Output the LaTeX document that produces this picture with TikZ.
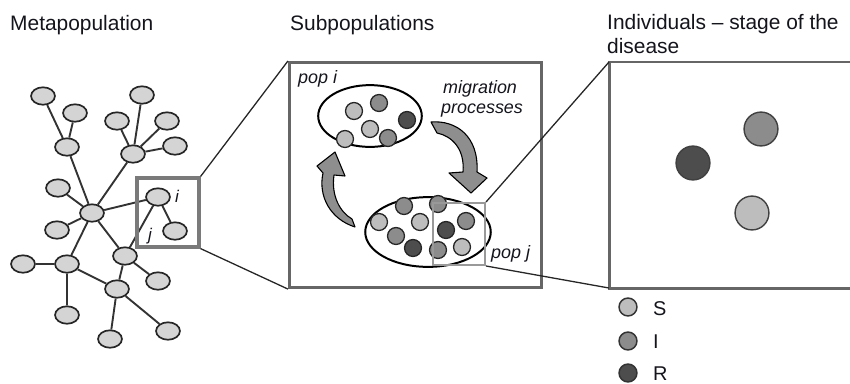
\documentclass[tikz,border=0pt]{standalone}
\usepackage{fontspec}
\setmainfont{Liberation Sans}
\usetikzlibrary{shapes.geometric,backgrounds}
\definecolor{sCol}{HTML}{BDBDBD}
\definecolor{iCol}{HTML}{8C8C8C}
\definecolor{rCol}{HTML}{4D4D4D}
\definecolor{netFill}{HTML}{D4D4D4}
\definecolor{inkCol}{HTML}{14141C}
\definecolor{frameCol}{HTML}{666666}
\definecolor{arrowFill}{HTML}{8E8E8E}
\begin{document}
\begin{tikzpicture}[x=1bp,y=-1bp,
  title/.style={anchor=base west,inner sep=0,text=inkCol,font=\fontsize{21}{24}\selectfont},
  lbl/.style={anchor=base west,inner sep=0,text=inkCol,font=\fontsize{18}{20}\selectfont\itshape},
  net/.style={ellipse,draw=black!85,line width=1.7,fill=netFill,minimum width=24,minimum height=17.5,inner sep=0},
  link/.style={draw=black!80,line width=1.9},
  ind/.style={circle,draw=black!85,line width=1.3,minimum size=17,inner sep=0},
  big/.style={circle,draw=black!75,line width=1.4,minimum size=34,inner sep=0},
  leg/.style={circle,draw=black!80,line width=1.5,minimum size=18,inner sep=0},
  pop/.style={ellipse,draw=black,line width=2,inner sep=0},
  zoomline/.style={draw=black!85,line width=1.3},
  migr/.style={fill=arrowFill,draw=black,line width=1.1,line join=round}]
\useasboundingbox (0,0) rectangle (850,383);

% headings
\node[title] (t1) at (10,30) {Metapopulation};
\node[title] (t2) at (290,30) {Subpopulations};
\node[title] (t3) at (607,29) {Individuals -- stage of the};
\node[title] (t4) at (607,53) {disease};

% ---- metapopulation network ----
\node[net] (hub) at (92,213) {};
\node[net] (a6) at (67,147) {};
\node[net] (a1) at (43,96) {};
\node[net] (a3) at (75,113) {};
\node[net] (b7) at (133,154) {};
\node[net] (b2) at (142,95) {};
\node[net] (b4) at (117,121) {};
\node[net] (b5) at (167,121) {};
\node[net] (b8) at (175,146) {};
\node[net] (c9) at (58,188) {};
\node[net] (c10) at (57,230) {};
\node[net] (ni) at (158,197) {};
\node[net] (nj) at (175,231) {};
\node[net] (d13) at (125,256) {};
\node[net] (d14) at (158,281) {};
\node[net] (e12) at (67,264) {};
\node[net] (e11) at (23,264) {};
\node[net] (e16) at (67,315) {};
\node[net] (f15) at (117,289) {};
\node[net] (f17) at (110,339) {};
\node[net] (f18) at (168,331) {};

\begin{scope}[on background layer]
  \path[link] (hub) -- (a6) (a6) -- (a1) (a6) -- (a3)
    (hub) -- (b7) (b7) -- (b2) (b7) -- (b4) (b7) -- (b5) (b7) -- (b8)
    (hub) -- (c9) (hub) -- (c10) (hub) -- (ni) (ni) -- (nj) (ni) -- (d13)
    (hub) -- (d13) (hub) -- (e12) (e12) -- (e11) (e12) -- (e16) (e12) -- (f15)
    (d13) -- (d14) (d13) -- (f15) (f15) -- (f17) (f15) -- (f18);
\end{scope}

\node[anchor=base west,inner sep=0,text=inkCol,font=\fontsize{17}{20}\selectfont\itshape] (li) at (175,202) {i};
\node[anchor=base west,inner sep=0,text=inkCol,font=\fontsize{17}{20}\selectfont\itshape] (lj) at (148,240) {j};

% zoom frame around i and j
\node[draw=black!52,line width=3.5,minimum width=62,minimum height=69,inner sep=0] (zbox) at (168,212.5) {};

% ---- subpopulations panel ----
\node[draw=frameCol,line width=3,minimum width=253,minimum height=226,inner sep=0] (mid) at (415.5,175) {};
\draw[zoomline] (zbox.north east) -- (mid.north west);
\draw[zoomline] (zbox.south east) -- (mid.south west);

\node[pop,minimum width=104,minimum height=62] (popi) at (370,116) {};
\node[pop,minimum width=126,minimum height=70] (popj) at (428,232) {};

% individuals in pop i
\node[ind,fill=sCol] (p1) at (354,111) {};
\node[ind,fill=iCol] (p2) at (379,103) {};
\node[ind,fill=rCol] (p3) at (407,120) {};
\node[ind,fill=sCol] (p4) at (370,129) {};
\node[ind,fill=iCol] (p5) at (388,138) {};
\node[ind,fill=sCol] (p6) at (345,139) {};

% individuals in pop j
\node[ind,fill=sCol] (q1) at (379,222) {};
\node[ind,fill=iCol] (q2) at (404,206) {};
\node[ind,fill=sCol] (q3) at (420,222) {};
\node[ind,fill=iCol] (q4) at (438,204) {};
\node[ind,fill=iCol] (q5) at (396,236) {};
\node[ind,fill=rCol] (q6) at (413,248) {};
\node[ind,fill=rCol] (q7) at (446,230) {};
\node[ind,fill=iCol] (q8) at (466,221) {};
\node[ind,fill=iCol] (q9) at (438,250) {};
\node[ind,fill=sCol] (q10) at (462,247) {};

% zoom frame inside pop j
\node[draw=black!40,line width=2.2,minimum width=52,minimum height=62,inner sep=0] (jbox) at (459,234) {};

% migration arrows
\draw[migr] (431,122) .. controls (456,120) and (479,136) .. (477,172)
  -- (487,178) -- (471,193) -- (449,173) -- (463,172)
  .. controls (465,149) and (452,136) .. (437,133) -- cycle;
\draw[migr] (355,227) .. controls (330,219) and (318,196) .. (323,173)
  -- (317,166) -- (335,152) -- (345,176) -- (334,175)
  .. controls (331,196) and (340,212) .. (352,219) -- cycle;

\node[lbl] (lpi) at (298,83) {pop i};
\node[lbl] (lm1) at (443,93) {migration};
\node[lbl] (lm2) at (441,113) {processes};
\node[lbl] (lpj) at (491,258) {pop j};

% ---- individuals panel ----
\coordinate (rtl) at (609,62);
\coordinate (rbl) at (609,288);
\coordinate (rtr) at (851,62);
\coordinate (rbr) at (851,288);
\draw[draw=frameCol,line width=3] (rtr) -- (rtl) -- (rbl) -- (rbr);
\draw[zoomline] (jbox.north east) -- (rtl);
\draw[zoomline] (jbox.south east) -- (rbl);

\node[big,fill=rCol] (cr) at (693,163) {};
\node[big,fill=iCol] (ci) at (761,129) {};
\node[big,fill=sCol] (cs) at (752,213) {};

% legend
\node[leg,fill=sCol] (gs) at (628,307) {};
\node[leg,fill=iCol] (gi) at (628,341) {};
\node[leg,fill=rCol] (gr) at (628,373) {};
\node[title,font=\fontsize{20}{22}\selectfont] (ts) at (653,315) {S};
\node[title,font=\fontsize{20}{22}\selectfont] (ti) at (653,348) {I};
\node[title,font=\fontsize{20}{22}\selectfont] (tr) at (653,380) {R};
\end{tikzpicture}
\end{document}
